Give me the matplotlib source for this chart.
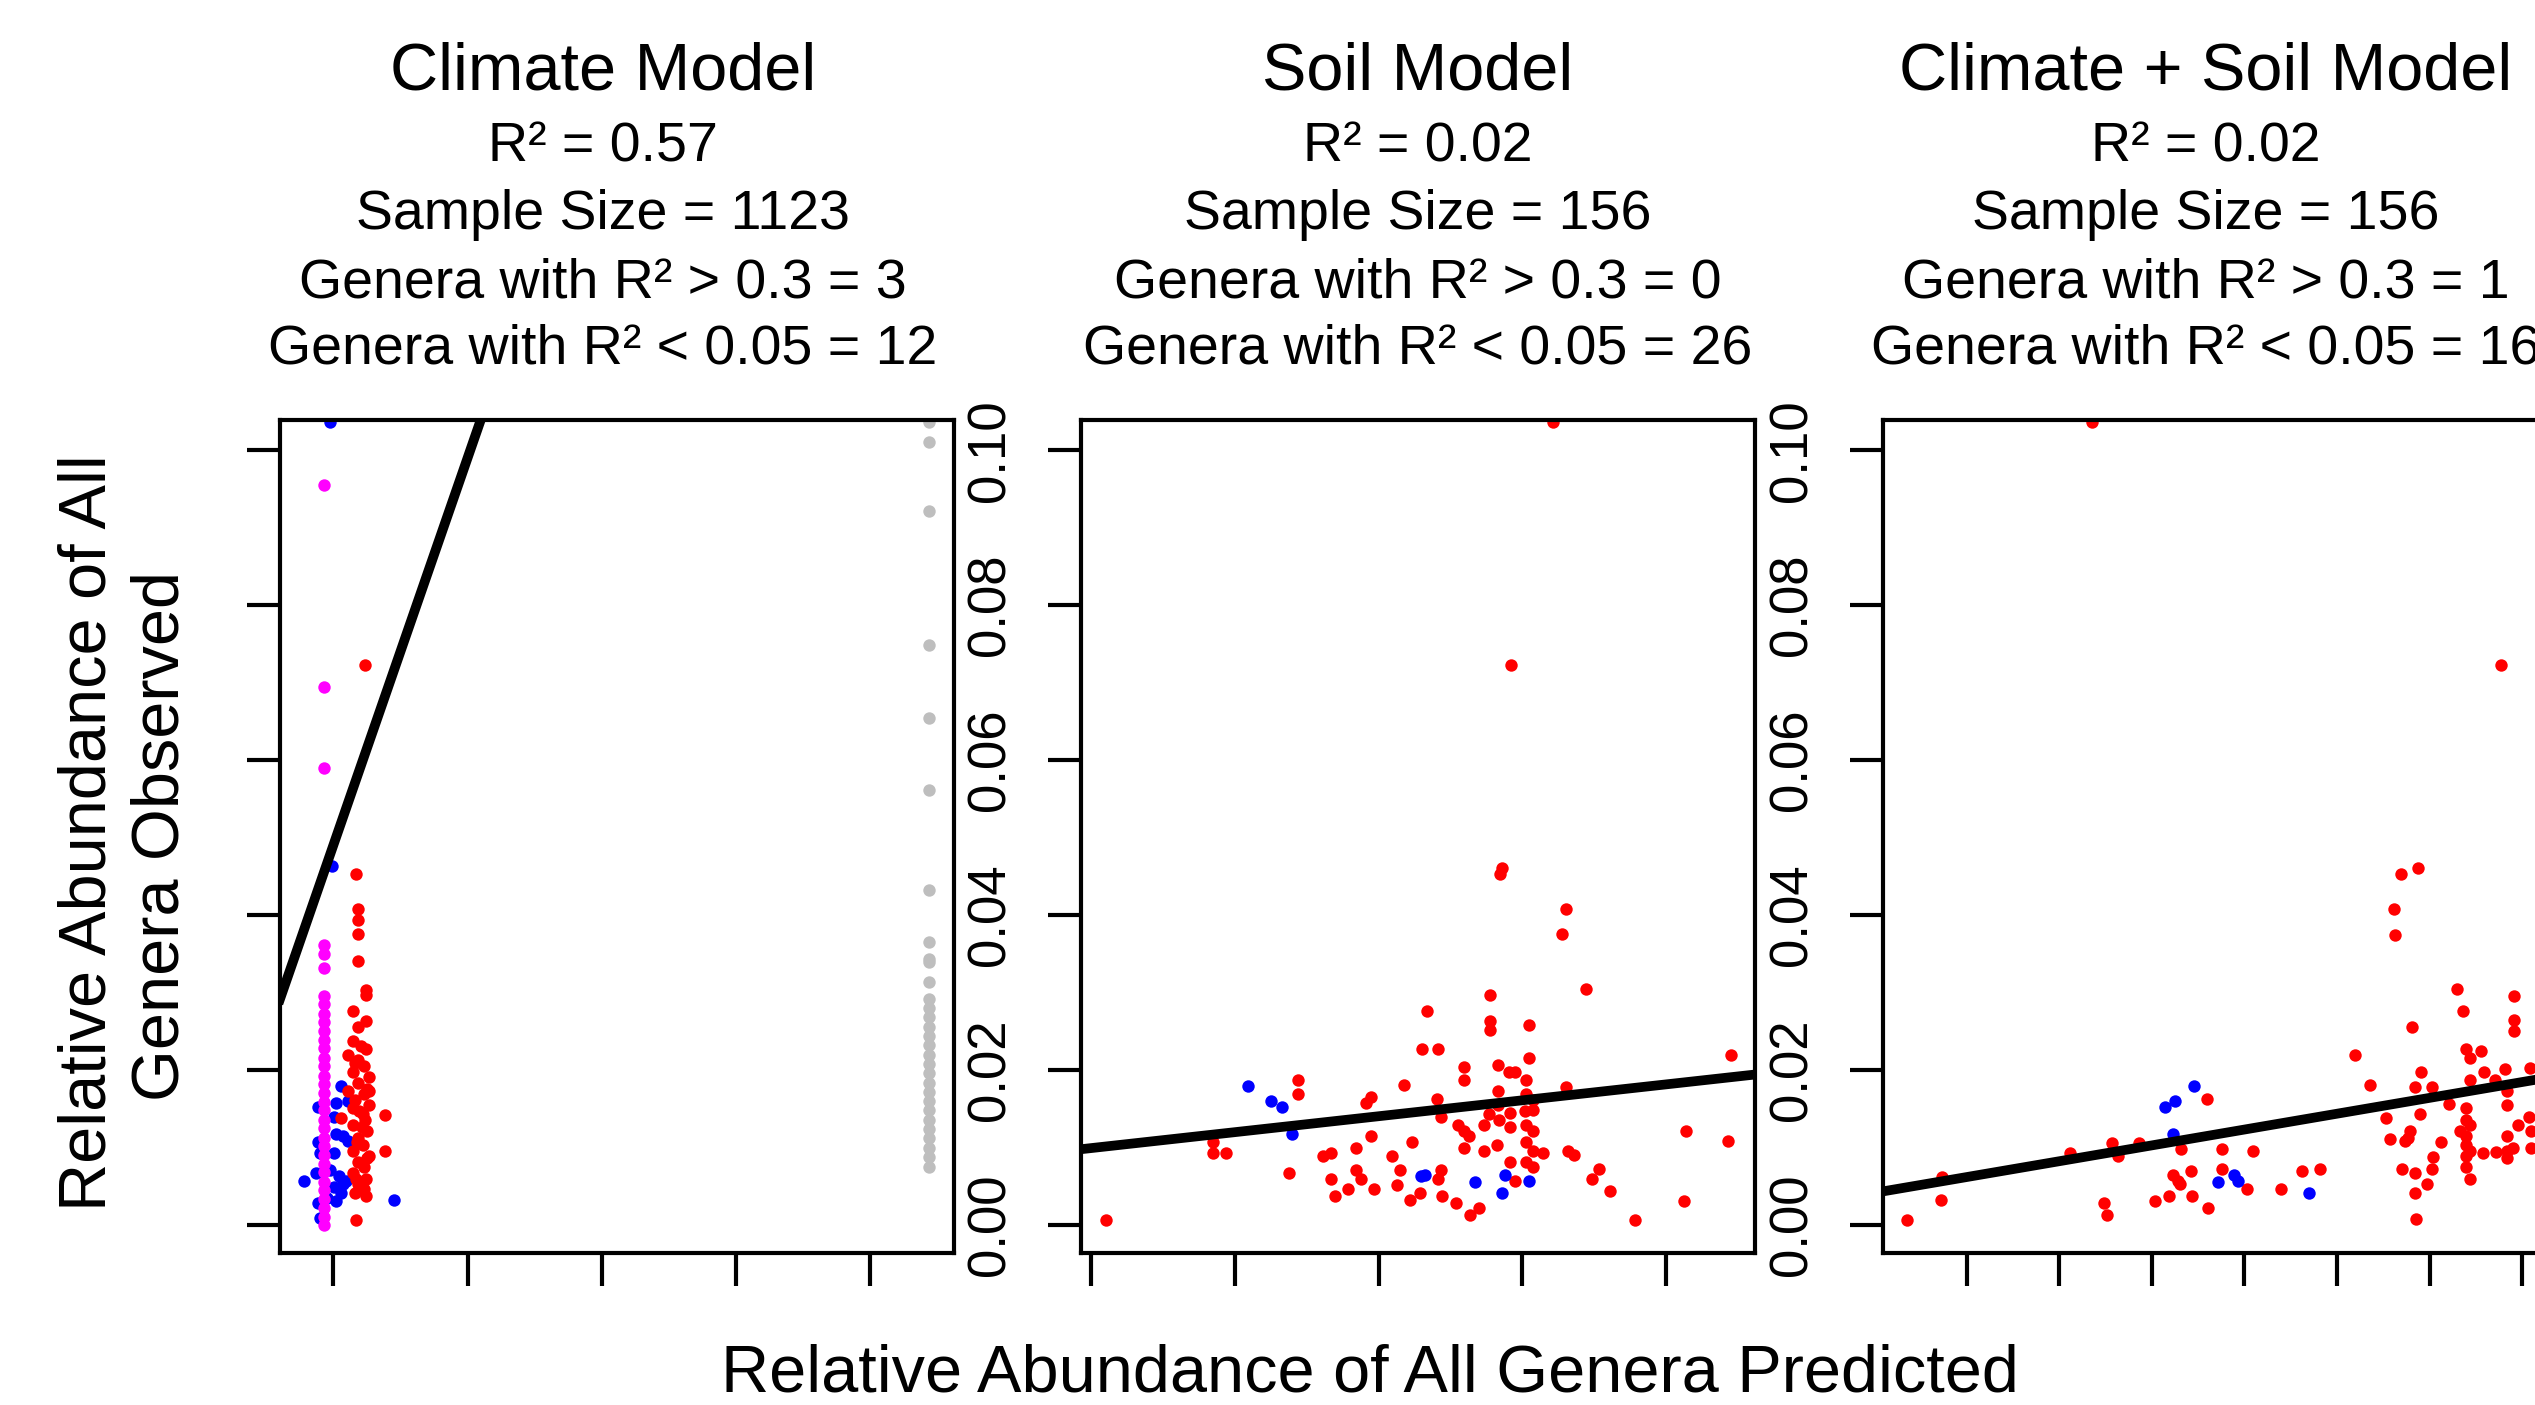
import matplotlib

matplotlib.use("Agg")
import matplotlib.pyplot as plt

plt.rcParams["font.family"] = ["Liberation Sans", "DejaVu Sans"]

# ---- data ----
panel_titles = ["Climate Model", "Soil Model", "Climate + Soil Model"]
panel_r2 = ["0.57", "0.02", "0.02"]
panel_n = [1123, 156, 156]
panel_gt03 = [3, 0, 1]
panel_lt005 = [12, 26, 16]

y_ticks = [0.00, 0.02, 0.04, 0.06, 0.08, 0.10]
x_ticks_climate = [0.00, 0.05, 0.10, 0.15, 0.20]
x_ticks_soil = [0.00, 0.01, 0.02, 0.03, 0.04]
x_ticks_both = [0.010, 0.015, 0.020, 0.025, 0.030, 0.035, 0.040]

# fitted lines: (intercept, slope)
fit_climate = (0.049, 1.0)
fit_soil = (0.00994, 0.2055)
fit_both = (0.00212, 0.4085)

# Climate model
climate_magenta_y = [0.0955, 0.0694, 0.0590, 0.0361, 0.0350, 0.0332, 0.0296, 0.0285,
                     0.0273, 0.0262, 0.0250, 0.0239, 0.0228, 0.0216, 0.0205, 0.0193,
                     0.0182, 0.0170, 0.0159, 0.0148, 0.0136, 0.0125, 0.0113, 0.0102,
                     0.0091, 0.0079, 0.0068, 0.0056, 0.0045, 0.0034, 0.0022, 0.0011, 0.0000]
climate_magenta_x = [-0.0034] * len(climate_magenta_y)

climate_blue_x = [-0.0014, -0.0005, 0.0029, 0.0012, -0.0056, 0.0055, 0.0003, 0.0012,
                  0.0055, 0.0038, -0.0056, -0.0048, 0.0003, -0.0065, -0.0014, 0.0021,
                  0.0046, -0.0108, 0.0003, 0.0029, -0.0022, 0.0226, -0.0056, 0.0012,
                  -0.0048, 0.0038]
climate_blue_y = [0.1036, 0.0463, 0.0180, 0.0158, 0.0153, 0.0160, 0.0140, 0.0118,
                  0.0109, 0.0115, 0.0107, 0.0093, 0.0093, 0.0067, 0.0071, 0.0064,
                  0.0057, 0.0057, 0.0049, 0.0042, 0.0035, 0.0033, 0.0028, 0.0031,
                  0.0009, 0.0053]

climate_red_x = [0.0120, 0.0085, 0.0092, 0.0092, 0.0092, 0.0092, 0.0123, 0.0123,
                 0.0072, 0.0123, 0.0092, 0.0072, 0.0123, 0.0055, 0.0092, 0.0115,
                 0.0072, 0.0132, 0.0092, 0.0055, 0.0115, 0.0080, 0.0132, 0.0097,
                 0.0029, 0.0120, 0.0072, 0.0127, 0.0092, 0.0109, 0.0072, 0.0132,
                 0.0092, 0.0115, 0.0072, 0.0123, 0.0092, 0.0115, 0.0080, 0.0123,
                 0.0191, 0.0191, 0.0085, 0.0103, 0.0080, 0.0127, 0.0072, 0.0106,
                 0.0089, 0.0127, 0.0085, 0.0109, 0.0132]
climate_red_y = [0.0723, 0.0453, 0.0408, 0.0394, 0.0376, 0.0341, 0.0303, 0.0297,
                 0.0276, 0.0263, 0.0256, 0.0238, 0.0227, 0.0220, 0.0213, 0.0205,
                 0.0198, 0.0191, 0.0184, 0.0173, 0.0169, 0.0162, 0.0155, 0.0147,
                 0.0138, 0.0136, 0.0129, 0.0122, 0.0113, 0.0104, 0.0096, 0.0089,
                 0.0082, 0.0075, 0.0067, 0.0060, 0.0053, 0.0046, 0.0041, 0.0038,
                 0.0142, 0.0095, 0.0007, 0.0231, 0.0209, 0.0176, 0.0151, 0.0126,
                 0.0107, 0.0086, 0.0060, 0.0144, 0.0173]

climate_gray_y = [0.1036, 0.1010, 0.0922, 0.0748, 0.0654, 0.0562, 0.0432, 0.0365,
                  0.0343, 0.0340, 0.0314, 0.0292, 0.0280, 0.0268, 0.0256, 0.0244,
                  0.0232, 0.0220, 0.0208, 0.0196, 0.0184, 0.0172, 0.0160, 0.0148,
                  0.0136, 0.0124, 0.0112, 0.0100, 0.0088, 0.0075]
climate_gray_x = [0.2217] * len(climate_gray_y)

# Soil model
soil_red_x = [0.03214, 0.02918, 0.02858, 0.02847, 0.03303, 0.03274, 0.03445, 0.02776,
              0.02335, 0.02776, 0.02776, 0.03047, 0.02299, 0.02413, 0.04452, 0.03047,
              0.02591, 0.02833, 0.02904, 0.02947, 0.01438, 0.01438, 0.02175, 0.02591,
              0.03025, 0.03303, 0.01915, 0.01950, 0.02406, 0.02833, 0.02833, 0.03025,
              0.03071, 0.02431, 0.02769, 0.02911, 0.03018, 0.03071, 0.02555, 0.02591,
              0.02627, 0.02733, 0.02840, 0.02911, 0.03025, 0.03071, 0.00847, 0.04139,
              0.04431, 0.01844, 0.01950, 0.02235, 0.02591, 0.02733, 0.02822, 0.03025,
              0.03071, 0.00847, 0.00940, 0.01612, 0.01666, 0.02093, 0.03321, 0.03356,
              0.03143, 0.01844, 0.02431, 0.02911, 0.03025, 0.03071, 0.03534, 0.01374,
              0.01666, 0.01879, 0.02146, 0.02413, 0.02947, 0.03488, 0.01790, 0.01968,
              0.02128, 0.02288, 0.03612, 0.01694, 0.02221, 0.02438, 0.02538, 0.02698,
              0.04128, 0.00100, 0.02634, 0.03783]
soil_red_y = [0.1036, 0.0723, 0.0461, 0.0453, 0.0408, 0.0376, 0.0305, 0.0297,
              0.0276, 0.0263, 0.0252, 0.0258, 0.0227, 0.0227, 0.0220, 0.0216,
              0.0204, 0.0207, 0.0197, 0.0197, 0.0187, 0.0169, 0.0181, 0.0187,
              0.0187, 0.0178, 0.0158, 0.0165, 0.0163, 0.0173, 0.0155, 0.0169,
              0.0162, 0.0140, 0.0144, 0.0145, 0.0147, 0.0149, 0.0129, 0.0122,
              0.0115, 0.0129, 0.0136, 0.0126, 0.0129, 0.0122, 0.0107, 0.0122,
              0.0109, 0.0100, 0.0115, 0.0107, 0.0100, 0.0096, 0.0104, 0.0107,
              0.0096, 0.0093, 0.0093, 0.0089, 0.0093, 0.0089, 0.0096, 0.0091,
              0.0093, 0.0071, 0.0071, 0.0082, 0.0082, 0.0075, 0.0073, 0.0067,
              0.0060, 0.0060, 0.0071, 0.0060, 0.0057, 0.0060, 0.0046, 0.0046,
              0.0052, 0.0042, 0.0044, 0.0037, 0.0033, 0.0037, 0.0028, 0.0022,
              0.0031, 0.0007, 0.0013, 0.0007]
soil_blue_x = [0.01089, 0.01249, 0.01328, 0.01399, 0.02296, 0.02324, 0.02673, 0.02858,
               0.02876, 0.03047]
soil_blue_y = [0.0180, 0.0160, 0.0152, 0.0118, 0.0064, 0.0065, 0.0055, 0.0041,
               0.0065, 0.0057]

# Climate + Soil model
both_red_x = [0.01674, 0.03888, 0.03344, 0.03437, 0.03309, 0.03316, 0.03651, 0.03958,
              0.03679, 0.03958, 0.03958, 0.03407, 0.03100, 0.03698, 0.03779, 0.03721,
              0.03795, 0.03856, 0.03907, 0.04042, 0.03453, 0.03721, 0.03181, 0.03419,
              0.03512, 0.03605, 0.03919, 0.03919, 0.02298, 0.03267, 0.03447, 0.03698,
              0.03698, 0.03721, 0.04035, 0.03977, 0.03395, 0.03384, 0.03663, 0.03698,
              0.03919, 0.04047, 0.03284, 0.03367, 0.03563, 0.03698, 0.03721, 0.03919,
              0.03953, 0.04047, 0.01786, 0.01930, 0.01558, 0.01814, 0.02158, 0.02377,
              0.02547, 0.03519, 0.03698, 0.03791, 0.03860, 0.03919, 0.00867, 0.02377,
              0.02209, 0.02116, 0.02809, 0.02907, 0.03353, 0.03419, 0.03512, 0.03698,
              0.03721, 0.02140, 0.02151, 0.02512, 0.02698, 0.03488, 0.00860, 0.01740,
              0.02019, 0.02093, 0.02216, 0.03419, 0.02302, 0.01756, 0.00674, 0.03426]
both_red_y = [0.1036, 0.0723, 0.0453, 0.0461, 0.0408, 0.0374, 0.0305, 0.0296,
              0.0276, 0.0265, 0.0251, 0.0256, 0.0220, 0.0227, 0.0225, 0.0216,
              0.0198, 0.0187, 0.0202, 0.0203, 0.0197, 0.0187, 0.0181, 0.0178,
              0.0178, 0.0156, 0.0173, 0.0155, 0.0163, 0.0138, 0.0144, 0.0151,
              0.0136, 0.0129, 0.0140, 0.0129, 0.0122, 0.0113, 0.0122, 0.0115,
              0.0115, 0.0122, 0.0111, 0.0109, 0.0107, 0.0104, 0.0096, 0.0096,
              0.0100, 0.0100, 0.0106, 0.0106, 0.0093, 0.0089, 0.0098, 0.0098,
              0.0096, 0.0088, 0.0089, 0.0093, 0.0094, 0.0087, 0.0062, 0.0073,
              0.0070, 0.0065, 0.0070, 0.0073, 0.0073, 0.0067, 0.0073, 0.0075,
              0.0060, 0.0057, 0.0053, 0.0046, 0.0046, 0.0053, 0.0033, 0.0029,
              0.0031, 0.0037, 0.0037, 0.0042, 0.0022, 0.0013, 0.0007, 0.0008]
both_blue_x = [0.02070, 0.02123, 0.02228, 0.02116, 0.02356, 0.02442, 0.02465, 0.02849]
both_blue_y = [0.0153, 0.0160, 0.0180, 0.0118, 0.0055, 0.0065, 0.0057, 0.0041]

# ---- layout (pixels of a 2535 x 1405 canvas) ----
W, H = 2535, 1405
fig = plt.figure(figsize=(W / 100, H / 100), dpi=100)

# third panel runs off the right edge in the original, so it is cut at the canvas edge
axes_left_px = [280, 1081, 1883]
axes_w_px = [674, 674, W - 1883]
axes_top_px, axes_bot_px = 420, 1253
title_x_px = [603, 1418, 2206]
xlims = [(-0.01983, 0.2311), (-0.000712, 0.04619), (0.005465, 0.040701)]
xticks = [x_ticks_climate, x_ticks_soil, x_ticks_both]
fits = [fit_climate, fit_soil, fit_both]

RED, BLUE, MAGENTA, GRAY = "#FF0000", "#0000FF", "#FF00FF", "#BEBEBE"
MS = 80

axes = []
for i in range(3):
    ax = fig.add_axes([axes_left_px[i] / W, (H - axes_bot_px) / H,
                       axes_w_px[i] / W, (axes_bot_px - axes_top_px) / H])
    ax.set_xlim(*xlims[i])
    ax.set_ylim(-0.0036, 0.1039)
    ax.set_xticks(xticks[i])
    ax.set_xticklabels([])
    ax.set_yticks(y_ticks)
    if i == 0:
        ax.set_yticklabels([])
    else:
        ax.set_yticklabels([f"{v:.2f}" for v in y_ticks], rotation=90, va="center",
                           fontsize=38)
    ax.tick_params(direction="out", length=24, width=3, pad=23)
    for sp in ax.spines.values():
        sp.set_linewidth(3)
    axes.append(ax)
axes[2].spines["right"].set_visible(False)

ax1, ax2, ax3 = axes
ax1.scatter(climate_gray_x, climate_gray_y, s=MS, color=GRAY, linewidths=0, zorder=2)
ax1.scatter(climate_blue_x, climate_blue_y, s=MS, color=BLUE, linewidths=0, zorder=2)
ax1.scatter(climate_magenta_x, climate_magenta_y, s=MS, color=MAGENTA, linewidths=0, zorder=3)
ax1.scatter(climate_red_x, climate_red_y, s=MS, color=RED, linewidths=0, zorder=3)

ax2.scatter(soil_red_x, soil_red_y, s=MS, color=RED, linewidths=0, zorder=2)
ax2.scatter(soil_blue_x, soil_blue_y, s=MS, color=BLUE, linewidths=0, zorder=2)

ax3.scatter(both_red_x, both_red_y, s=MS, color=RED, linewidths=0, zorder=2)
ax3.scatter(both_blue_x, both_blue_y, s=MS, color=BLUE, linewidths=0, zorder=2)

for ax, (b, m) in zip(axes, fits):
    ax.axline((0, b), slope=m, color="black", linewidth=7, zorder=4)

# titles and stats above each panel
for i in range(3):
    x = title_x_px[i] / W
    fig.text(x, 1 - 73 / H, panel_titles[i], ha="center", va="center", fontsize=48)
    lines = [f"R\u00b2 = {panel_r2[i]}",
             f"Sample Size = {panel_n[i]}",
             f"Genera with R\u00b2 > 0.3 = {panel_gt03[i]}",
             f"Genera with R\u00b2 < 0.05 = {panel_lt005[i]}"]
    for y_px, txt in zip([147, 215, 283, 349], lines):
        fig.text(x, 1 - y_px / H, txt, ha="center", va="center", fontsize=40)

fig.text(1370 / W, 1 - 1375 / H, "Relative Abundance of All Genera Predicted",
         ha="center", va="center", fontsize=48)
fig.text(89 / W, 1 - 833 / H, "Relative Abundance of All",
         ha="center", va="center", rotation=90, fontsize=48)
fig.text(162 / W, 1 - 836 / H, "Genera Observed",
         ha="center", va="center", rotation=90, fontsize=48)

fig.savefig("out.png", dpi=100)
